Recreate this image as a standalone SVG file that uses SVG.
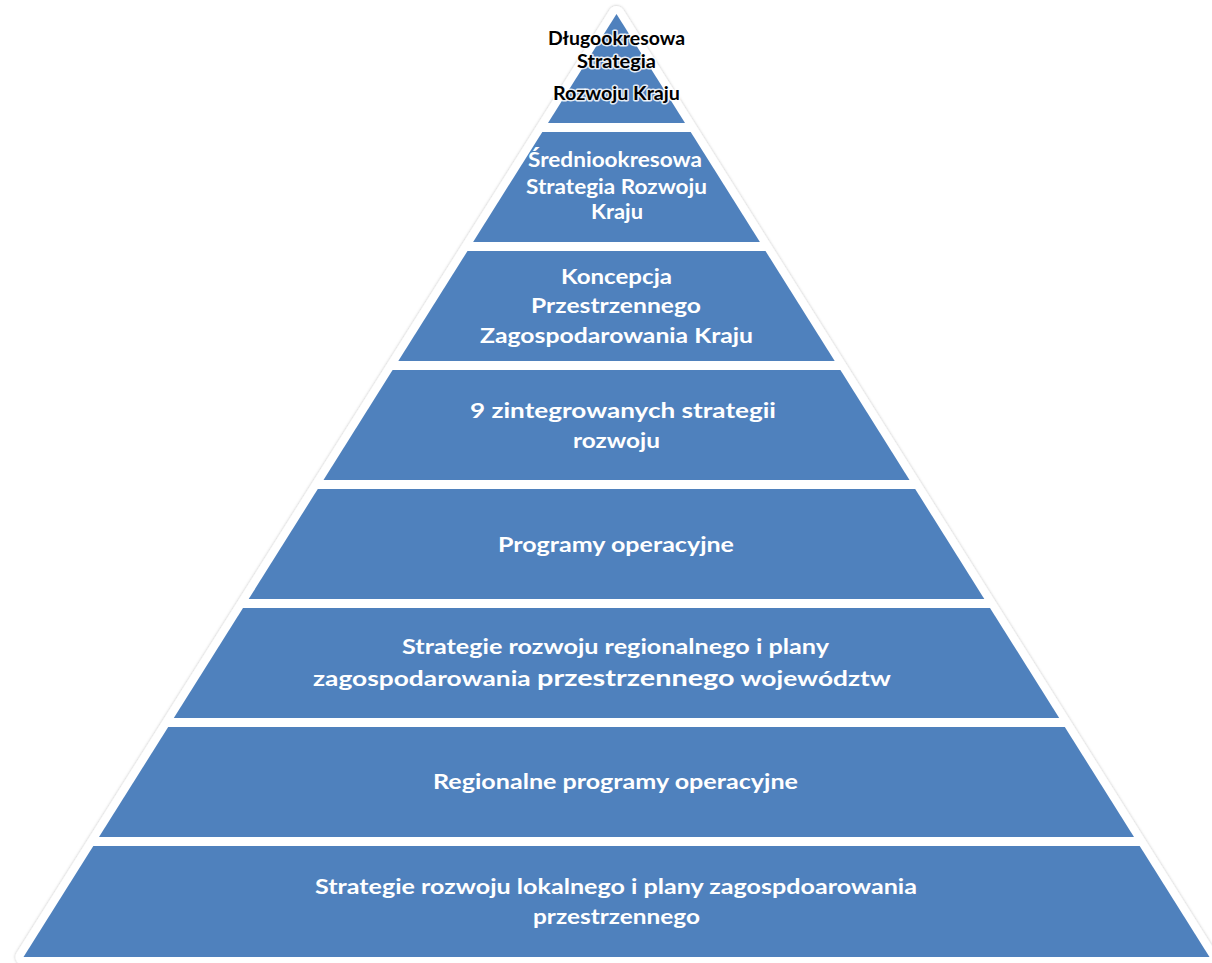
<svg xmlns="http://www.w3.org/2000/svg" width="1212" height="963" viewBox="0 0 1212 963">
<defs>
<filter id="sh" x="-5%" y="-5%" width="110%" height="110%">
<feDropShadow dx="0" dy="0" stdDeviation="1.6" flood-color="#000" flood-opacity="0.28"/>
</filter>
<style>
.tier{fill:#4F81BD;}
.t{font-family:Lato,"Open Sans","Liberation Sans",sans-serif;font-weight:bold;font-size:21px;fill:#fff;text-anchor:middle;}
.tb{font-family:Lato,"Open Sans","Liberation Sans",sans-serif;font-weight:bold;font-size:18px;fill:#000;text-anchor:middle;stroke:#fff;stroke-width:3;stroke-opacity:0.85;paint-order:stroke;stroke-linejoin:round;}
</style>
</defs>
<rect width="1212" height="963" fill="#fff"/>
<g id="outline">
<path d="M616.5,14 L23.5,957 L1209.5,957 Z" fill="#fff" stroke="#fff" stroke-width="16" stroke-linejoin="round" filter="url(#sh)"/>
</g>
<g id="tier1">
<path class="tier" d="M616.5,14 L685,123 L548,123 Z"/>
<text class="tb" x="616.5" y="45" textLength="137" lengthAdjust="spacingAndGlyphs">Długookresowa</text>
<text class="tb" x="616.5" y="68" textLength="79" lengthAdjust="spacingAndGlyphs">Strategia</text>
<text class="tb" x="616.5" y="100" textLength="127" lengthAdjust="spacingAndGlyphs">Rozwoju Kraju</text>
</g>
<g id="tier2">
<path class="tier" d="M542.3,132 L690.7,132 L759.9,242 L473.1,242 Z"/>
<text class="t" x="615" y="167" textLength="174" lengthAdjust="spacingAndGlyphs">Średniookresowa</text>
<text class="t" x="616.5" y="194" textLength="181" lengthAdjust="spacingAndGlyphs">Strategia Rozwoju</text>
<text class="t" x="617" y="219" textLength="52" lengthAdjust="spacingAndGlyphs">Kraju</text>
</g>
<g id="tier3">
<path class="tier" d="M467.5,251 L765.5,251 L834.7,361 L398.3,361 Z"/>
<text class="t" x="616.5" y="284" textLength="111" lengthAdjust="spacingAndGlyphs">Koncepcja</text>
<text class="t" x="616" y="313" textLength="170" lengthAdjust="spacingAndGlyphs">Przestrzennego</text>
<text class="t" x="616.5" y="343" textLength="273" lengthAdjust="spacingAndGlyphs">Zagospodarowania Kraju</text>
</g>
<g id="tier4">
<path class="tier" d="M392.6,370 L840.4,370 L909.5,480 L323.5,480 Z"/>
<text class="t" x="623" y="418" textLength="306" lengthAdjust="spacingAndGlyphs">9 zintegrowanych strategii</text>
<text class="t" x="616.5" y="448" textLength="87" lengthAdjust="spacingAndGlyphs">rozwoju</text>
</g>
<g id="tier5">
<path class="tier" d="M317.8,489 L915.2,489 L984.3,599 L248.7,599 Z"/>
<text class="t" x="616" y="552" textLength="236" lengthAdjust="spacingAndGlyphs">Programy operacyjne</text>
</g>
<g id="tier6">
<path class="tier" d="M243,608 L990,608 L1059.2,718 L173.8,718 Z"/>
<text class="t" x="615.5" y="654" textLength="427" lengthAdjust="spacingAndGlyphs">Strategie rozwoju regionalnego i plany</text>
<text class="t" x="602" y="686" textLength="578" lengthAdjust="spacingAndGlyphs">zagospodarowania <tspan font-size="23">przestrzennego</tspan> województw</text>
</g>
<g id="tier7">
<path class="tier" d="M168.2,727 L1064.8,727 L1134,837 L99,837 Z"/>
<text class="t" x="615.5" y="789" textLength="365" lengthAdjust="spacingAndGlyphs">Regionalne programy operacyjne</text>
</g>
<g id="tier8">
<path class="tier" d="M93.3,846 L1139.7,846 L1209.5,957 L23.5,957 Z"/>
<text class="t" x="616" y="894" textLength="602" lengthAdjust="spacingAndGlyphs">Strategie rozwoju lokalnego i plany zagospdoarowania</text>
<text class="t" x="616.5" y="924" textLength="167" lengthAdjust="spacingAndGlyphs">przestrzennego</text>
</g>
<g id="connectors"/>
</svg>
